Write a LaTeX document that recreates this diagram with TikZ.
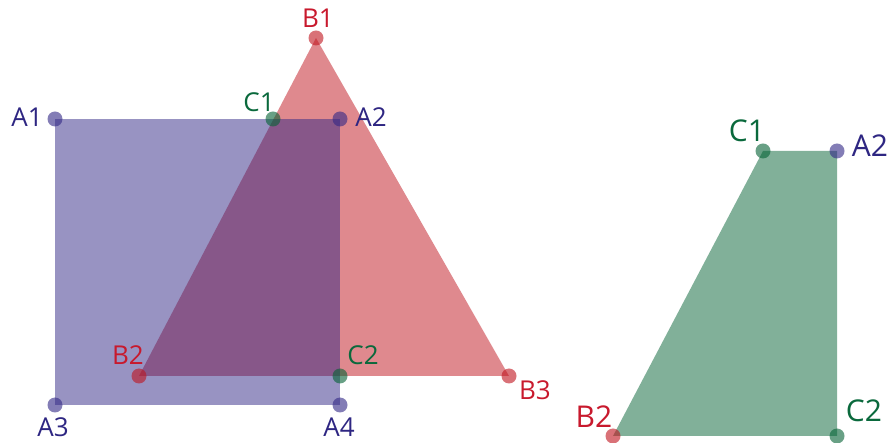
\documentclass[tikz,border=0pt]{standalone}
\usepackage{fontspec}
\setmainfont{Open Sans}
\definecolor{bluebase}{RGB}{49,39,133}
\definecolor{redbase}{RGB}{191,19,29}
\definecolor{greenbase}{RGB}{3,97,51}
\definecolor{bluetext}{RGB}{46,38,130}
\definecolor{redtext}{RGB}{200,25,45}
\definecolor{greentext}{RGB}{10,105,60}
\begin{document}
\begin{tikzpicture}[x=1pt,y=-1pt,
  dot/.style={circle,inner sep=0pt,minimum size=15pt,fill opacity=0.6},
  bdot/.style={dot,fill=bluebase},
  rdot/.style={dot,fill=redbase},
  gdot/.style={dot,fill=greenbase},
  lbl/.style={inner sep=0pt,font=\fontsize{26}{30}\selectfont},
  biglbl/.style={inner sep=0pt,font=\fontsize{30}{34}\selectfont},
  bl/.style={text=bluetext},
  rl/.style={text=redtext},
  gl/.style={text=greentext}]
\useasboundingbox (0,0) rectangle (895,443);
% left points
\coordinate (A1) at (55,119);
\coordinate (A2) at (340,119);
\coordinate (A3) at (55,405);
\coordinate (A4) at (340,405);
\coordinate (B1) at (316,38);
\coordinate (B2) at (139,376);
\coordinate (B3) at (509,376);
\coordinate (C1) at (273,119);
\coordinate (C2) at (340,376);
% right points
\coordinate (rC1) at (763,151);
\coordinate (rA2) at (837,151);
\coordinate (rB2) at (613,436);
\coordinate (rC2) at (837,436);
% shapes
\fill[redbase,fill opacity=0.5] (B1) -- (B3) -- (B2) -- cycle;
\fill[bluebase,fill opacity=0.5] (A1) -- (A2) -- (A4) -- (A3) -- cycle;
\fill[greenbase,fill opacity=0.5] (rC1) -- (rA2) -- (rC2) -- (rB2) -- cycle;
% dots
\node[bdot] (dA1) at (A1) {};
\node[bdot] (dA2) at (A2) {};
\node[bdot] (dA3) at (A3) {};
\node[bdot] (dA4) at (A4) {};
\node[rdot] (dB1) at (B1) {};
\node[rdot] (dB2) at (B2) {};
\node[rdot] (dB3) at (B3) {};
\node[gdot] (dC1) at (C1) {};
\node[gdot] (dC2) at (C2) {};
\node[gdot] (drC1) at (rC1) {};
\node[bdot] (drA2) at (rA2) {};
\node[rdot] (drB2) at (rB2) {};
\node[gdot] (drC2) at (rC2) {};
% labels left
\node[lbl,bl] (tA1) at (27,117) {A1};
\node[lbl,bl] (tA2) at (371,117) {A2};
\node[lbl,bl] (tA3) at (53,427) {A3};
\node[lbl,bl] (tA4) at (339,427) {A4};
\node[lbl,rl] (tB1) at (318,18) {B1};
\node[lbl,rl] (tB2) at (128,355) {B2};
\node[lbl,rl] (tB3) at (535,390) {B3};
\node[lbl,gl] (tC1) at (259,102) {C1};
\node[lbl,gl] (tC2) at (363,355) {C2};
% labels right
\node[biglbl,gl] (trC1) at (747,131) {C1};
\node[biglbl,bl] (trA2) at (870,146) {A2};
\node[biglbl,rl] (trB2) at (594,417) {B2};
\node[biglbl,gl] (trC2) at (864,411) {C2};
\end{tikzpicture}
\end{document}
